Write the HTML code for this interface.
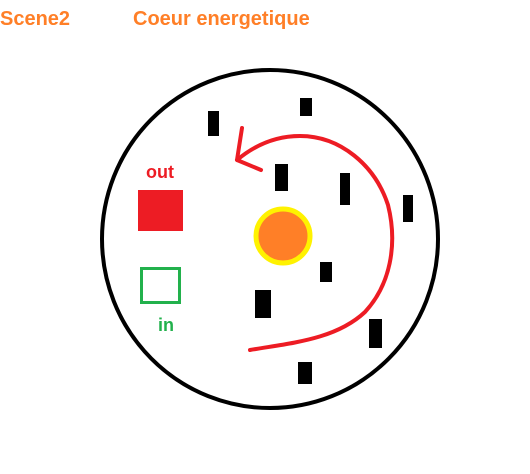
<!DOCTYPE html>
<html><head><meta charset="utf-8"><style>
html,body{margin:0;padding:0;background:#fff;}
svg{display:block;}
text{font-family:"Liberation Sans",sans-serif;font-weight:bold;}
</style></head><body>
<svg width="530" height="474" viewBox="0 0 530 474">
<text x="0" y="25" font-size="20" fill="#ff7f27">Scene2</text>
<text x="133" y="25" font-size="20" fill="#ff7f27">Coeur energetique</text>
<ellipse cx="270" cy="239" rx="168" ry="169" fill="none" stroke="#000" stroke-width="4"/>
<g fill="#000">
<rect x="208" y="111" width="11" height="25"/>
<rect x="300" y="98" width="12" height="18"/>
<rect x="275" y="164" width="13" height="27"/>
<rect x="340" y="173" width="10" height="32"/>
<rect x="403" y="195" width="10" height="27"/>
<rect x="320" y="262" width="12" height="20"/>
<rect x="255" y="290" width="16" height="28"/>
<rect x="369" y="319" width="13" height="29"/>
<rect x="298" y="362" width="14" height="22"/>
</g>
<circle cx="283" cy="236" r="27" fill="#ff7f27" stroke="#fff200" stroke-width="5"/>
<path d="M237,160 C255,145 275,136 300,136 C340,136 375,165 388,205 C398,245 390,285 365,312 C335,340 290,343 250,350" fill="none" stroke="#ed1c24" stroke-width="4" stroke-linecap="round"/>
<path d="M242,128 L237,160 L261,170" fill="none" stroke="#ed1c24" stroke-width="4" stroke-linecap="round" stroke-linejoin="round"/>
<text x="146" y="178" font-size="18" fill="#ed1c24">out</text>
<rect x="138" y="190" width="45" height="41" fill="#ed1c24"/>
<rect x="141.5" y="268.5" width="38" height="34" fill="none" stroke="#22b14c" stroke-width="3"/>
<text x="158" y="331" font-size="18" fill="#22b14c">in</text>
</svg>
</body></html>
